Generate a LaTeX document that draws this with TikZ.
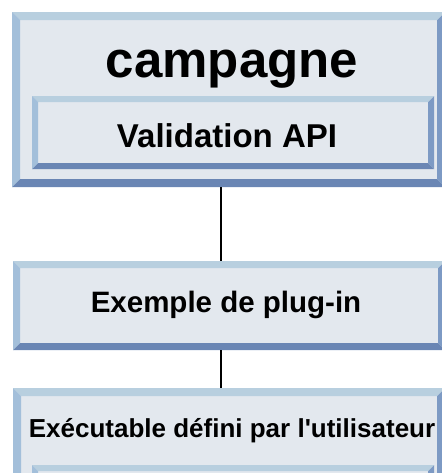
\documentclass[tikz,border=0pt]{standalone}
\usepackage{fontspec}
\setmainfont{Liberation Sans}
\definecolor{face}{HTML}{E3E8EE}
\definecolor{bvtop}{HTML}{B8CFDF}
\definecolor{bvleft}{HTML}{A3BFDA}
\definecolor{bvbottom}{HTML}{6A86B4}
\definecolor{bvright}{HTML}{7D9AC4}
\tikzset{
  bevelbox/.style={fill=face, inner sep=0pt, anchor=north west, path picture={
    \fill[bvtop] (path picture bounding box.north west) -- (path picture bounding box.north east)
      -- ([shift={(-#1,-#1)}]path picture bounding box.north east) -- ([shift={(#1,-#1)}]path picture bounding box.north west) -- cycle;
    \fill[bvleft] (path picture bounding box.north west) -- (path picture bounding box.south west)
      -- ([shift={(#1,#1)}]path picture bounding box.south west) -- ([shift={(#1,-#1)}]path picture bounding box.north west) -- cycle;
    \fill[bvbottom] (path picture bounding box.south west) -- (path picture bounding box.south east)
      -- ([shift={(-#1,#1)}]path picture bounding box.south east) -- ([shift={(#1,#1)}]path picture bounding box.south west) -- cycle;
    \fill[bvright] (path picture bounding box.north east) -- (path picture bounding box.south east)
      -- ([shift={(-#1,#1)}]path picture bounding box.south east) -- ([shift={(-#1,-#1)}]path picture bounding box.north east) -- cycle;
  }},
  boxtext/.style={font=\bfseries, text=black, inner sep=0pt, anchor=base}
}
\begin{document}
\begin{tikzpicture}[x=1pt, y=1pt]
    \useasboundingbox (0,0) rectangle (441,-473);
    % boxes
    \node[bevelbox=8pt, minimum width=433pt, minimum height=175pt] (campagne) at (12,-12) {};
    \node[bevelbox=6pt, minimum width=402pt, minimum height=73pt] (api) at (32,-96) {};
    \node[bevelbox=7pt, minimum width=432pt, minimum height=89pt] (plugin) at (13,-261) {};
    \node[bevelbox=8pt, minimum width=432pt, minimum height=120pt] (exec) at (13,-388) {};
    \node[bevelbox=6pt, minimum width=402pt, minimum height=40pt] (inner) at (32,-465) {};
    % texts
    \node[boxtext, font=\bfseries\fontsize{51}{60}\selectfont] (t1) at (232,-78) {campagne};
    \node[boxtext, font=\bfseries\fontsize{33}{40}\selectfont] (t2) at (227,-147) {Validation API};
    \node[boxtext, font=\bfseries\fontsize{29.5}{35}\selectfont] (t3) at (226,-312) {Exemple de plug-in};
    \node[boxtext, font=\bfseries\fontsize{26}{32}\selectfont] (t4) at (232,-437) {Exécutable défini par l\textquotesingle utilisateur};
    % links
    \coordinate (link) at (221,0);
    \draw[line width=1.5pt] (campagne.south -| link) -- (plugin.north -| link);
    \draw[line width=1.5pt] (plugin.south -| link) -- (exec.north -| link);
\end{tikzpicture}
\end{document}
